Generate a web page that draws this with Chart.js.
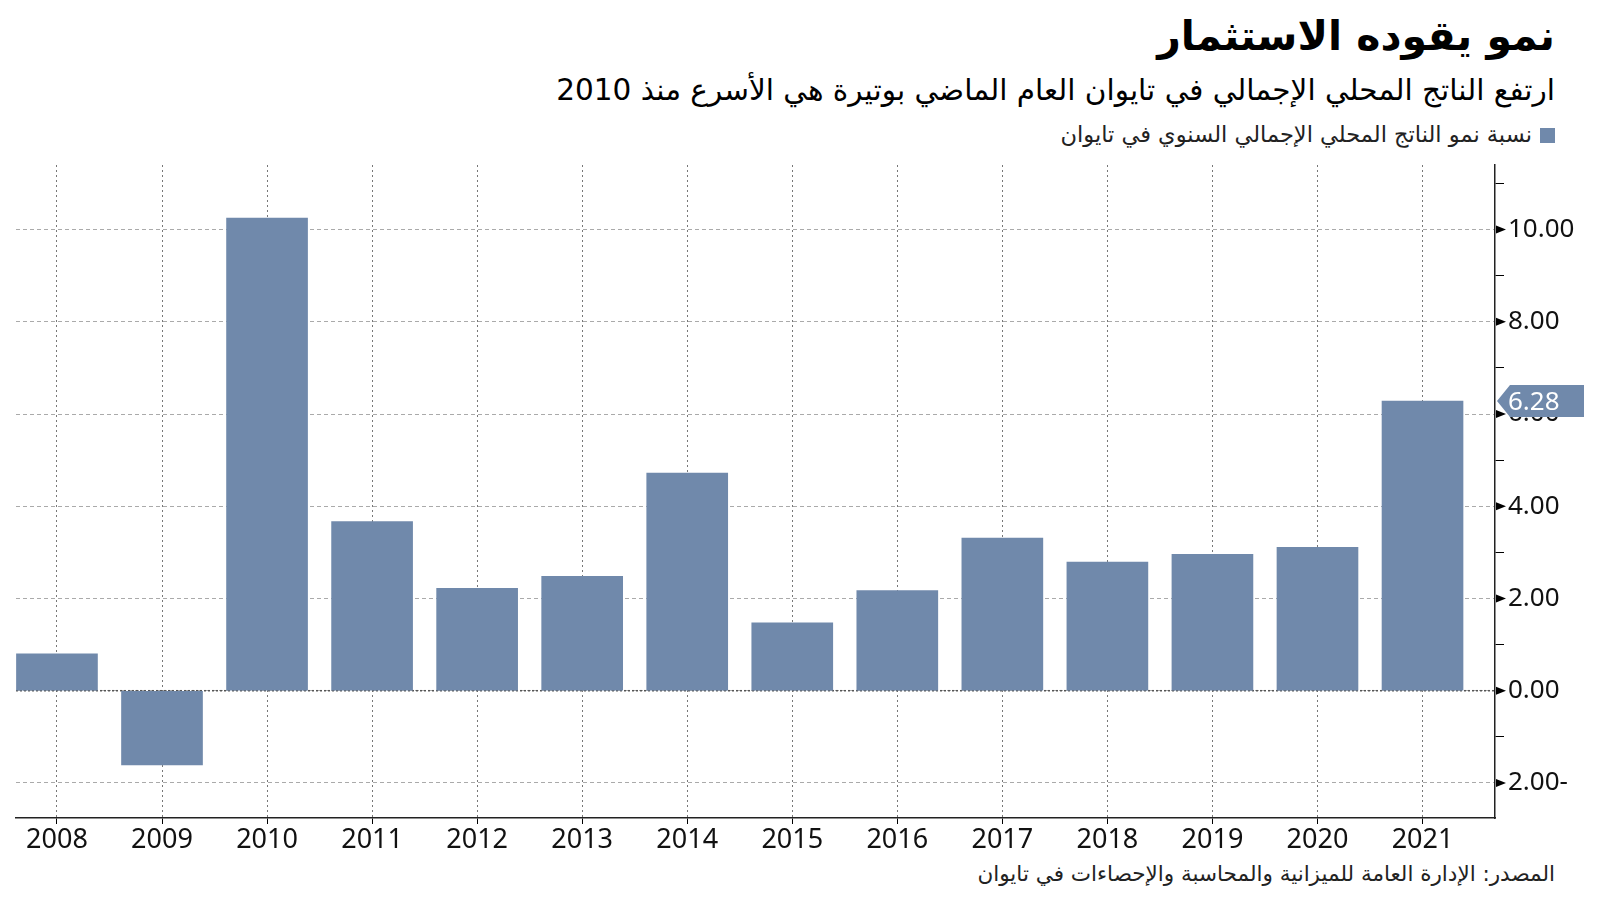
<!DOCTYPE html>
<html>
<head>
<meta charset="utf-8">
<script src="https://cdn.jsdelivr.net/npm/chart.js@4"></script>
<style>
body { margin:0; width:1600px; height:901px; background:#fff; position:relative; overflow:hidden; font-family:"DejaVu Sans", sans-serif; }
.t { position:absolute; right:45px; direction:rtl; white-space:nowrap; color:#000; }
#title { top:12px; font-size:41px; font-weight:bold; }
#sub { top:73px; font-size:29.5px; }
#leg { top:121px; font-size:22.5px; color:#222; }
#leg span { display:inline-block; width:15px; height:15px; background:#7089ab; margin-left:8px; vertical-align:middle; }
#src { top:861px; font-size:21.5px; color:#222; }
#wrap { position:absolute; left:0; top:0; width:1600px; height:901px; }
</style>
</head>
<body>
<div class="t" id="title">نمو يقوده الاستثمار</div>
<div class="t" id="sub">ارتفع الناتج المحلي الإجمالي في تايوان العام الماضي بوتيرة هي الأسرع منذ 2010</div>
<div class="t" id="leg"><span></span>نسبة نمو الناتج المحلي الإجمالي السنوي في تايوان</div>
<div class="t" id="src">المصدر: الإدارة العامة للميزانية والمحاسبة والإحصاءات في تايوان</div>
<div id="wrap"><canvas id="c"></canvas></div>
<script>
const years = [2008, 2009, 2010, 2011, 2012, 2013, 2014, 2015, 2016, 2017, 2018, 2019, 2020, 2021];
const growth = [0.80, -1.61, 10.25, 3.67, 2.22, 2.48, 4.72, 1.47, 2.17, 3.31, 2.79, 2.96, 3.11, 6.28];
const majorTicks = [-2, 0, 2, 4, 6, 8, 10];
const barColor = '#7089ab';

// arrows on the right axis, dotted zero line, last-value flag
const extras = {
    id: 'extras',
    beforeDatasetsDraw(chart) {
        const ctx = chart.ctx;
        const y = chart.scales.y;
        const area = chart.chartArea;
        const y0 = y.getPixelForValue(0);
        ctx.save();
        ctx.strokeStyle = '#555';
        ctx.lineWidth = 1.5;
        ctx.setLineDash([2, 2]);
        ctx.beginPath();
        ctx.moveTo(area.left, y0);
        ctx.lineTo(area.right, y0);
        ctx.stroke();
        ctx.restore();
    },
    afterDraw(chart) {
        const ctx = chart.ctx;
        const y = chart.scales.y;
        const area = chart.chartArea;
        ctx.save();
        ctx.fillStyle = '#000';
        majorTicks.forEach(v => {
            const py = y.getPixelForValue(v);
            ctx.beginPath();
            ctx.moveTo(area.right + 1, py - 4);
            ctx.lineTo(area.right + 11, py);
            ctx.lineTo(area.right + 1, py + 4);
            ctx.closePath();
            ctx.fill();
        });
        // flag with the latest value
        const last = growth[growth.length - 1];
        const fy = y.getPixelForValue(last);
        const x0 = area.right + 2;
        ctx.fillStyle = barColor;
        ctx.beginPath();
        ctx.moveTo(x0, fy);
        ctx.lineTo(x0 + 13, fy - 16);
        ctx.lineTo(x0 + 87, fy - 16);
        ctx.lineTo(x0 + 87, fy + 16);
        ctx.lineTo(x0 + 13, fy + 16);
        ctx.closePath();
        ctx.fill();
        ctx.fillStyle = '#fff';
        ctx.font = '26px "Noto Sans"';
        ctx.textBaseline = 'middle';
        ctx.fillText(last.toFixed(2), x0 + 11, fy + 1);
        ctx.restore();
    }
};

const chart = new Chart(document.getElementById('c'), {
    type: 'bar',
    data: {
        datasets: [{
            label: 'growth',
            data: years.map((yr, i) => ({ x: yr, y: growth[i] })),
            backgroundColor: barColor,
            barThickness: 81
        }]
    },
    options: {
        responsive: true,
        maintainAspectRatio: false,
        animation: false,
        layout: { padding: { top: 165, left: 16, right: 0, bottom: 0 } },
        plugins: { legend: { display: false }, tooltip: { enabled: false } },
        scales: {
            x: {
                type: 'linear',
                position: 'bottom',
                offset: false,
                min: 2007.61,
                max: 2021.69,
                afterFit: s => { s.height = 83; },
                ticks: {
                    stepSize: 1,
                    includeBounds: false,
                    callback: v => String(v),
                    font: { size: 27, family: 'Noto Sans' },
                    color: '#111',
                    padding: 0,
                    maxRotation: 0
                },
                grid: { offset: false, color: '#777', tickLength: 6, tickColor: '#000' },
                border: { display: true, color: '#222', width: 1.5, dash: [2, 3] }
            },
            y: {
                position: 'right',
                min: -2.76,
                max: 11.4,
                afterFit: s => { s.width = 105; },
                ticks: {
                    stepSize: 1,
                    includeBounds: false,
                    callback: v => (v % 2 !== 0 ? '' : (v < 0 ? Math.abs(v).toFixed(2) + '-' : v.toFixed(2))),
                    font: { size: 26, family: 'Noto Sans' },
                    color: '#111',
                    padding: 4
                },
                grid: {
                    color: c => (c.tick && c.tick.value % 2 === 0 ? '#aaa' : 'rgba(0,0,0,0)'),
                    tickColor: c => (c.tick && c.tick.value % 2 !== 0 ? '#000' : 'rgba(0,0,0,0)'),
                    tickLength: 9
                },
                border: { display: true, color: '#222', width: 1.5, dash: [4, 3] }
            }
        }
    },
    plugins: [extras]
});
</script>
</body>
</html>
